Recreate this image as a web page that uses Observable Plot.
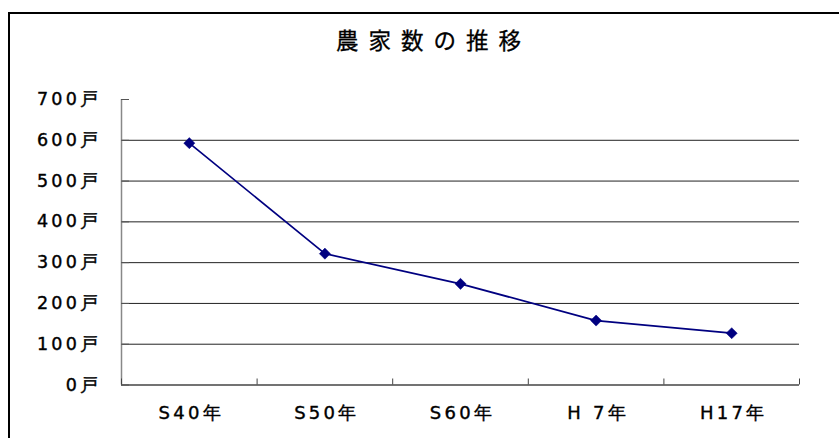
<!DOCTYPE html>
<html>
<head>
<meta charset="utf-8">
<script src="https://cdn.jsdelivr.net/npm/d3@7"></script>
<script src="https://cdn.jsdelivr.net/npm/@observablehq/plot@0.6"></script>
<style>
  html, body { margin: 0; padding: 0; width: 839px; height: 438px; overflow: hidden; background: #fff; }
  #frame { position: absolute; left: 8px; top: 12px; width: 900px; height: 500px; border: 2px solid #000; box-sizing: border-box; z-index: 5; pointer-events: none; }
  #title { position: relative; height: 60px; box-sizing: border-box; padding-top: 28px; padding-left: 336px;
           font-family: "Noto Sans CJK JP", sans-serif; font-size: 22.5px; line-height: 22.5px; letter-spacing: 10px;
           white-space: nowrap; color: #000; -webkit-text-stroke: 0.3px #000; }
  #chart { position: relative; }
  #chart svg text { letter-spacing: 3.3px; stroke: #000; stroke-width: 0.4px; }
</style>
</head>
<body>
<div id="frame"></div>
<div id="title">農家数の推移</div>
<div id="chart"></div>
<script>
const years = ["S40年", "S50年", "S60年", "H 7年", "H17年"];
const farms = [593, 322, 248, 158, 127];
const yTicks = [0, 100, 200, 300, 400, 500, 600, 700];
const gridTicks = [100, 200, 300, 400, 500, 600];

const data = years.map((y, i) => ({i, year: y, value: farms[i]}));
const idx = years.map((_, i) => i);
const bounds = [-0.5, ...idx.map(i => i + 0.5)];

const chart = Plot.plot({
  width: 839,
  height: 378,
  marginLeft: 121,
  marginRight: 40,
  marginTop: 39,
  marginBottom: 53.5,
  style: { fontFamily: "'DejaVu Sans', sans-serif", fontSize: "17px", color: "#000", background: "transparent" },
  x: { domain: [-0.5, years.length - 0.5] },
  y: { domain: [0, 700] },
  marks: [
    Plot.ruleY(gridTicks, { stroke: "#222", strokeWidth: 1 }),
    Plot.ruleX([-0.5], { stroke: "#888", strokeWidth: 1.5 }),
    Plot.ruleY([0], { stroke: "#444", strokeWidth: 1.5 }),
    Plot.axisY({ ticks: yTicks, tickSize: 8, dx: 8, tickFormat: () => "", stroke: "#555", label: null }),
    Plot.axisY({ ticks: yTicks, tickSize: 0, tickPadding: 20, tickFormat: d => d + "戸", fontSize: 17.5, fill: "#000", label: null }),
    Plot.axisX({ ticks: bounds, tickSize: 6, dy: -6, tickFormat: () => "", stroke: "#444", label: null }),
    Plot.axisX({ ticks: idx, tickSize: 0, tickPadding: 21, dx: 2, tickFormat: i => years[i], fontSize: 18, fill: "#000", label: null }),
    Plot.line(data, { x: "i", y: "value", stroke: "#000080", strokeWidth: 1.7 }),
    Plot.dot(data, { x: "i", y: "value", symbol: "diamond2", r: 5, fill: "#000080", stroke: "#000080", strokeWidth: 0.5 })
  ]
});
document.getElementById("chart").appendChild(chart);
</script>
</body>
</html>
